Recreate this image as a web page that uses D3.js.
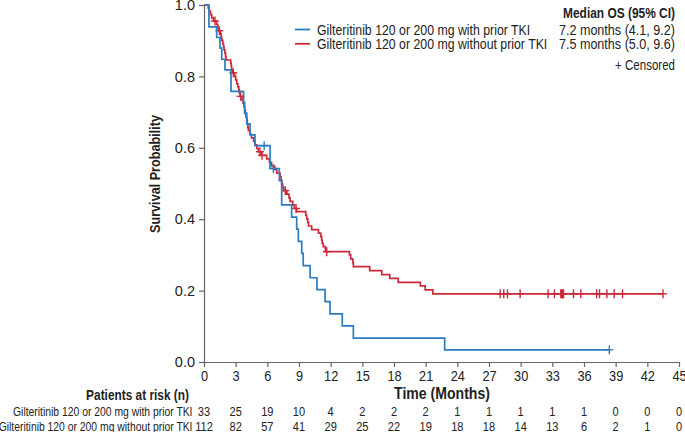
<!DOCTYPE html>
<html><head><meta charset="utf-8">
<script src="https://cdn.jsdelivr.net/npm/d3@7"></script>
<style>
html,body{margin:0;padding:0;background:#fff;}
svg{display:block;font-family:"Liberation Sans",Arial,Helvetica,sans-serif;}
</style></head>
<body><svg id="c" width="685" height="432"></svg>
<script>
// ---- data ----
const seriesNames = ["Gilteritinib 120 or 200 mg with prior TKI", "Gilteritinib 120 or 200 mg without prior TKI"];
const medianLabels = ["7.2 months (4.1, 9.2)", "7.5 months (5.0, 9.6)"];
const seriesColors = ["#2a7dc0", "#cc2a3a"];

const blueTimes = [0.47,1.2,1.52,1.68,1.99,2.56,3.75,3.85,4.05,4.36,4.83,6.26,7.14,7.36,8.3,8.78,8.94,9.26,9.4,10.05,10.7,11.47,11.94,13.1,14.15,22.8];
const blueSurv  = [0.939,0.909,0.879,0.848,0.818,0.758,0.727,0.697,0.667,0.636,0.606,0.542,0.508,0.44,0.406,0.372,0.338,0.304,0.270,0.236,0.203,0.169,0.135,0.101,0.067,0.034];
const blueCensor = [5.7,6.57,38.4];

const redTimes = [0.41,0.5,0.62,0.73,0.9,1.18,1.3,1.38,1.55,1.62,1.68,1.78,1.85,1.9,1.98,2.04,2.09,2.53,2.58,2.62,2.7,2.9,3.0,3.1,3.2,3.3,3.35,3.42,3.6,3.7,3.79,3.85,3.92,3.98,4.05,4.1,4.15,4.2,4.36,4.5,4.7,4.83,5.0,5.15,5.4,5.94,6.2,6.4,6.7,6.9,7.2,7.3,7.36,7.45,7.55,7.85,8.05,8.15,8.4,8.56,8.78,9.64,9.73,9.83,9.9,10.2,10.84,11.06,11.15,11.2,11.3,11.5,13.78,13.9,14.1,14.15,15.7,16.84,17.6,18.4,20.5,20.95,21.68];
const redSurv  = [0.991,0.982,0.973,0.964,0.955,0.946,0.937,0.928,0.919,0.910,0.901,0.892,0.883,0.874,0.865,0.856,0.846,0.837,0.828,0.819,0.810,0.800,0.790,0.780,0.771,0.762,0.753,0.744,0.734,0.725,0.715,0.705,0.696,0.686,0.677,0.667,0.657,0.648,0.638,0.628,0.618,0.608,0.598,0.589,0.579,0.569,0.559,0.549,0.539,0.529,0.519,0.509,0.499,0.489,0.480,0.470,0.460,0.450,0.440,0.430,0.421,0.411,0.401,0.391,0.381,0.371,0.361,0.351,0.341,0.332,0.323,0.309,0.300,0.289,0.278,0.267,0.256,0.245,0.234,0.223,0.213,0.202,0.191];
const redCensor = [1.04,1.45,2.78,3.47,5.3,5.5,7.7,8.72,11.63,28.06,28.4,28.75,29.95,32.6,33.2,33.8,33.88,33.96,34.06,35.0,35.7,37.2,37.47,38.17,38.86,39.65,43.48];

const xTicks = [0,3,6,9,12,15,18,21,24,27,30,33,36,39,42,45];
const yTicks = [0,0.2,0.4,0.6,0.8,1.0];
const riskBlue = [33,25,19,10,4,2,2,2,1,1,1,1,1,0,0,0];
const riskRed  = [112,82,57,41,29,25,22,19,18,18,14,13,6,2,1,0];

// ---- chart ----
const svg = d3.select("#c");
const x = d3.scaleLinear().domain([0,45]).range([204,679]);
const y = d3.scaleLinear().domain([0,1]).range([362,5]);
const axisColor = "#666";
const textColor = "#222";

// condensed text helper (the original uses a condensed face)
function txt(parent, tx, ty, str, o){
  const g = parent.append("g");
  const t = g.append("text").attr("text-anchor", o.anchor||"start").attr("fill",textColor)
    .style("font-size", o.size+"px").style("font-weight", o.weight||"normal").text(str);
  let sx = o.sx || 1;
  if (o.width) sx = o.width / t.node().getComputedTextLength();
  g.attr("transform", `translate(${tx},${ty})${o.rotate?` rotate(${o.rotate})`:""} scale(${sx},1)`);
  return g;
}

// axes
const gx = svg.append("g").attr("transform","translate(0,362)")
  .call(d3.axisBottom(x).tickValues(xTicks).tickSize(5).tickSizeOuter(0).tickPadding(4));
const gy = svg.append("g").attr("transform","translate(204,0)")
  .call(d3.axisLeft(y).tickValues(yTicks).tickFormat(d3.format(".1f")).tickSize(5).tickSizeOuter(0).tickPadding(4));
[gx,gy].forEach(g=>{
  g.select(".domain").attr("stroke",axisColor).attr("stroke-width",1.2);
  g.selectAll(".tick line").attr("stroke",axisColor).attr("stroke-width",1.2);
  g.selectAll(".tick text").attr("fill",textColor).style("font-size","14.5px")
   .style("font-family",'"Liberation Sans",Arial,sans-serif');
});
gx.selectAll(".tick text").attr("transform","scale(0.88,1)");

// curves
function kmPoints(times, surv, censor){
  const end = Math.max(times[times.length-1], d3.max(censor));
  const pts = [[0,1]];
  times.forEach((t,i)=>pts.push([t,surv[i]]));
  pts.push([end, surv[surv.length-1]]);
  return pts;
}
function survAt(times, surv, t){
  let s = 1;
  for(let i=0;i<times.length;i++){ if(times[i] <= t) s = surv[i]; }
  return s;
}
const line = d3.line().x(d=>x(d[0])).y(d=>y(d[1])).curve(d3.curveStepAfter);
const series = [
  {times: redTimes, surv: redSurv, censor: redCensor, color: seriesColors[1]},
  {times: blueTimes, surv: blueSurv, censor: blueCensor, color: seriesColors[0]}
];
series.forEach(s=>{
  svg.append("path").datum(kmPoints(s.times,s.surv,s.censor))
    .attr("d",line).attr("fill","none").attr("stroke",s.color).attr("stroke-width",1.7);
  const g = svg.append("g").attr("stroke",s.color).attr("stroke-width",1.4);
  s.censor.forEach(t=>{
    const cx = x(t), cy = y(survAt(s.times,s.surv,t));
    g.append("line").attr("x1",cx-4).attr("x2",cx+4).attr("y1",cy).attr("y2",cy);
    g.append("line").attr("x1",cx).attr("x2",cx).attr("y1",cy-4.5).attr("y2",cy+4.5);
  });
});

// axis titles
txt(svg, 442, 399, "Time (Months)", {size:16, weight:"bold", anchor:"middle", width:96});
txt(svg, 160, 174, "Survival Probability", {size:14, weight:"bold", anchor:"middle", width:118, rotate:-90});

// legend
txt(svg, 675, 18, "Median OS (95% CI)", {size:14, weight:"bold", anchor:"end", width:112});
[0,1].forEach(i=>{
  const ly = 29.5 + i*14.3;
  svg.append("line").attr("x1",295).attr("x2",310).attr("y1",ly).attr("y2",ly)
    .attr("stroke",seriesColors[i]).attr("stroke-width",1.8);
  txt(svg, 317, ly+5, seriesNames[i], {size:14, sx:0.88});
  txt(svg, 675, ly+5, medianLabels[i], {size:14, anchor:"end", sx:0.9});
});
txt(svg, 675, 70, "+ Censored", {size:14, anchor:"end", width:60});

// risk table
txt(svg, 189, 399.5, "Patients at risk (n)", {size:14, weight:"bold", anchor:"end", width:103});
[riskBlue, riskRed].forEach((row,i)=>{
  const ry = 416 + i*15;
  txt(svg, 192.5, ry, seriesNames[i], {size:12.5, anchor:"end", sx:0.83});
  row.forEach((d,j)=>txt(svg, x(xTicks[j]), ry, String(d), {size:13, anchor:"middle", sx:0.85}));
});
</script></body></html>
